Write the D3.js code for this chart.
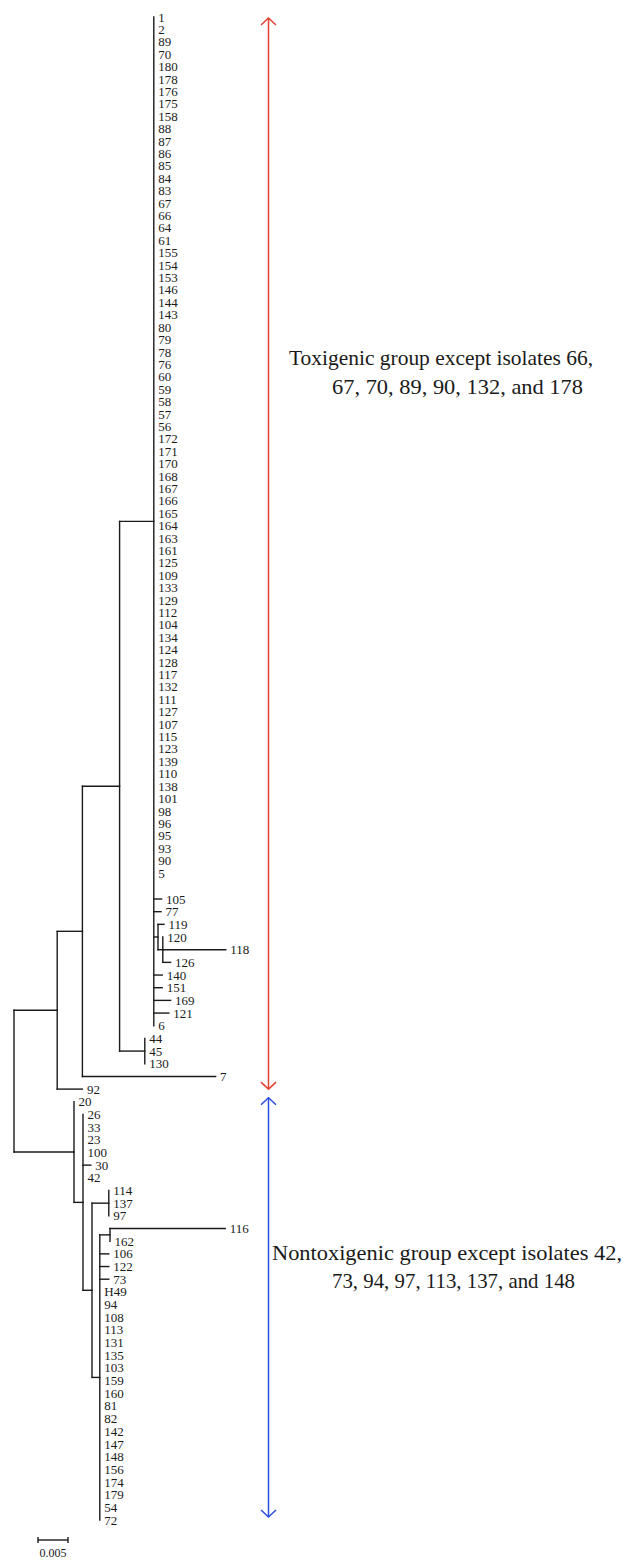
<!DOCTYPE html>
<html><head><meta charset="utf-8">
<script src="https://cdn.jsdelivr.net/npm/d3@7"></script>
<style>html,body{margin:0;padding:0;background:#fff}</style>
</head><body>
<svg id="chart" width="626" height="1568"></svg>
<script>
// ---------------- Data ----------------
// Tree topology: children of each internal node, top-to-bottom order
const rootNode = ["n:A", "n:B"];
const nodeA = ["n:C", "92"];
const nodeC = ["n:D", "7"];
const nodeD = ["n:E", "n:F"];
const nodeE = ["1","2","89","70","180","178","176","175","158","88","87","86","85","84","83","67","66","64","61",
  "155","154","153","146","144","143","80","79","78","76","60","59","58","57","56","172","171","170","168","167",
  "166","165","164","163","161","125","109","133","129","112","104","134","124","128","117","132","111","127",
  "107","115","123","139","110","138","101","98","96","95","93","90","5",
  "105","77","n:G","140","151","169","121","6"];
const nodeF = ["44","45","130"];
const nodeG = ["119","n:H"];
const nodeH = ["120","118","126"];
const nodeB = ["20","n:I"];
const nodeI = ["26","33","23","100","30","42","n:J"];
const nodeJ = ["n:K","n:L"];
const nodeK = ["114","137","97"];
const nodeL = ["n:M","106","122","73","H49","94","108","113","131","135","103","159","160","81","82","142",
  "147","148","156","174","179","54","72"];
const nodeM = ["116","162"];

// Branch lengths (substitutions/site); unlisted branches have length 0
const branchLengths = [
  ["n:A",0.0072],["n:C",0.0042],["92",0.0042],["n:D",0.0062],["7",0.0222],
  ["n:E",0.0057],["n:F",0.0042],["105",0.0013],["77",0.0012],["n:G",0.0007],
  ["140",0.0014],["151",0.0014],["169",0.0028],["121",0.0025],
  ["119",0.0010],["n:H",0.0008],["118",0.0105],["126",0.0013],
  ["n:B",0.0100],["n:I",0.0015],["30",0.0013],["n:J",0.0015],["n:K",0.0028],["n:L",0.0013],
  ["n:M",0.0017],["116",0.0192],["106",0.0015],["122",0.0015],["73",0.0015]
];

// Groups (arrows + annotation)
const groupFirstLeaf = ["1", "20"];
const groupLastLeaf = ["92", "72"];
const groupLines = [
  ["Toxigenic group except isolates 66,", "67, 70, 89, 90, 132, and 178"],
  ["Nontoxigenic group except isolates 42,", "73, 94, 97, 113, 137, and 148"]
];
const groupColors = ["#e4412f", "#2b4de0"];

const scaleBarValue = 0.005;
const scaleBarLabel = "0.005";

// ---------------- Build ----------------
const childTable = new Map([
  ["root", rootNode], ["n:A", nodeA], ["n:C", nodeC], ["n:D", nodeD], ["n:E", nodeE],
  ["n:F", nodeF], ["n:G", nodeG], ["n:H", nodeH], ["n:B", nodeB], ["n:I", nodeI],
  ["n:J", nodeJ], ["n:K", nodeK], ["n:L", nodeL], ["n:M", nodeM]
]);
const lenTable = new Map(branchLengths);

const root = d3.hierarchy("root", id => (childTable.get(id) || null));
root.each(n => {
  n.len = lenTable.get(n.data) || 0;
  n.dist = n.parent ? n.parent.dist + n.len : 0;
});

const leaves = root.leaves();
leaves.forEach((l, i) => l.idx = i);

const x = d3.scaleLinear().domain([0, 0.005]).range([14, 44]);
const y = d3.scaleLinear().domain([0, 69, 70, leaves.length - 1]).range([17, 873, 899, 1520]);

root.eachAfter(n => {
  n.px = x(n.dist);
  if (!n.children) n.py = y(n.idx);
  else n.py = (n.children[0].py + n.children[n.children.length - 1].py) / 2;
});

const svg = d3.select("#chart");
svg.append("rect").attr("width", 626).attr("height", 1568).attr("fill", "#fff");

const g = svg.append("g").attr("fill", "none").attr("stroke", "#1a1a1a").attr("stroke-width", 1.4)
  .attr("stroke-linecap", "square");

// vertical connectors
g.selectAll("path.v").data(root.descendants().filter(n => n.children)).join("path")
  .attr("class", "v")
  .attr("d", n => `M${n.px},${n.children[0].py}V${n.children[n.children.length - 1].py}`);
// horizontal branches
g.selectAll("path.h").data(root.descendants().filter(n => n.parent && n.len > 0)).join("path")
  .attr("class", "h")
  .attr("d", n => `M${n.parent.px},${n.py}H${n.px}`);

// leaf labels
svg.append("g").selectAll("text").data(leaves).join("text")
  .attr("x", d => d.px + 4.5)
  .attr("y", d => d.py)
  .attr("dy", "0.35em")
  .attr("font-family", "'Liberation Serif', 'DejaVu Serif', serif")
  .attr("font-size", 13)
  .attr("fill", "#1a1a1a")
  .text(d => d.data);

// group arrows
const leafByName = new Map(leaves.map(l => [l.data, l]));
const arrowX = 268.5;
groupFirstLeaf.forEach((f, i) => {
  const y0 = leafByName.get(f).py + (i === 0 ? 1 : -4);
  const y1 = leafByName.get(groupLastLeaf[i]).py - (i === 0 ? 0 : 3);
  const a = svg.append("g").attr("fill", "none").attr("stroke", groupColors[i]).attr("stroke-width", 1.5);
  a.append("path").attr("d", `M${arrowX},${y0}V${y1}`);
  a.append("path").attr("d", `M${arrowX - 7.5},${y0 + 7}L${arrowX},${y0}L${arrowX + 7.5},${y0 + 7}`);
  a.append("path").attr("d", `M${arrowX - 7.5},${y1 - 7}L${arrowX},${y1}L${arrowX + 7.5},${y1 - 7}`);
});

// group annotations
const annot = [
  {x1: 289, x2: 332, b1: 365, b2: 394, w1: 304, w2: 251},
  {x1: 272, x2: 332, b1: 1260, b2: 1288, w1: 350, w2: 243}
];
groupLines.forEach((lines, i) => {
  const p = annot[i];
  const t = svg.append("g").attr("font-family", "'Liberation Serif', 'DejaVu Serif', serif")
    .attr("font-size", 21).attr("fill", "#1a1a1a");
  t.append("text").attr("x", p.x1).attr("y", p.b1).attr("textLength", p.w1)
    .attr("lengthAdjust", "spacingAndGlyphs").text(lines[0]);
  t.append("text").attr("x", p.x2).attr("y", p.b2).attr("textLength", p.w2)
    .attr("lengthAdjust", "spacingAndGlyphs").text(lines[1]);
});

// scale bar
const sbX = 38, sbY = 1540, sbW = x(scaleBarValue) - x(0);
const sb = svg.append("g").attr("stroke", "#1a1a1a").attr("stroke-width", 1.4).attr("fill", "none");
sb.append("path").attr("d", `M${sbX},${sbY}H${sbX + sbW}`);
sb.append("path").attr("d", `M${sbX},${sbY - 3}V${sbY + 3}M${sbX + sbW},${sbY - 3}V${sbY + 3}`);
svg.append("text").attr("x", sbX + sbW / 2).attr("y", 1557).attr("text-anchor", "middle")
  .attr("font-family", "'Liberation Serif', 'DejaVu Serif', serif").attr("font-size", 12)
  .attr("fill", "#1a1a1a").text(scaleBarLabel);
</script>
</body></html>
